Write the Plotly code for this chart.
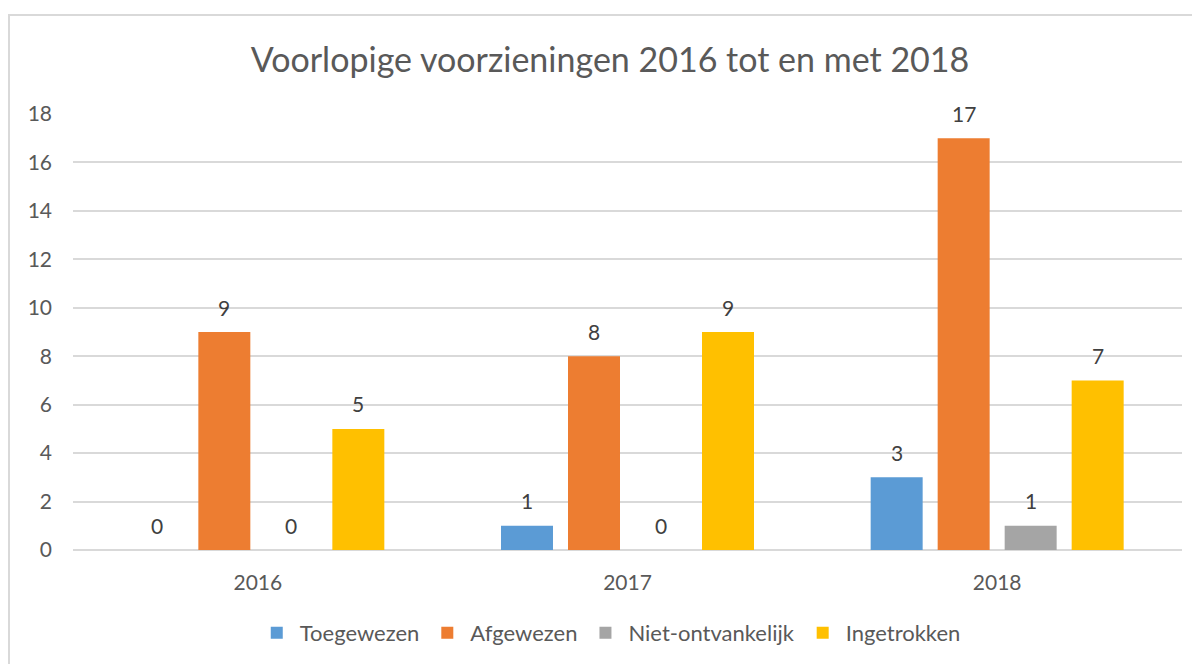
import plotly.graph_objects as go

years = ['2016', '2017', '2018']
series_names = ['Toegewezen', 'Afgewezen', 'Niet-ontvankelijk', 'Ingetrokken']
toegewezen = [0, 1, 3]
afgewezen = [9, 8, 17]
niet_ontvankelijk = [0, 0, 1]
ingetrokken = [5, 9, 7]
y_ticks = [0, 2, 4, 6, 8, 10, 12, 14, 16, 18]

colors = ['#5B9BD5', '#ED7D31', '#A5A5A5', '#FFC000']
series_values = [toegewezen, afgewezen, niet_ontvankelijk, ingetrokken]

# page body adds an 8px offset, so the layout is shifted up/left by that much
W, H = 1200, 664
margin = dict(l=65, r=26, t=106, b=122)
bargap = 0.275
plot_w = W - margin['l'] - margin['r']
plot_h = H - margin['t'] - margin['b']
slot_px = plot_w / len(years) * (1 - bargap) / len(series_names)

fig = go.Figure()
annotations = []
for i, (name, vals, col) in enumerate(zip(series_names, series_values, colors)):
    fig.add_trace(go.Bar(x=years, y=vals, name=name, marker_color=col,
                         marker_line_width=0))
    shift = (i - (len(series_names) - 1) / 2) * slot_px
    # category axis: use the category index, '2016' would be read as an index
    for j, v in enumerate(vals):
        annotations.append(dict(x=j, y=v, text=str(v), showarrow=False,
                                xshift=shift, yshift=25, yanchor='middle',
                                font=dict(family='Lato', size=21, color='#404040')))

fig.update_layout(
    width=W, height=H,
    margin=margin,
    paper_bgcolor='white', plot_bgcolor='white',
    barmode='group', bargap=bargap, bargroupgap=0.224,
    font=dict(family='Lato', size=21, color='#595959'),
    title=dict(text='Voorlopige voorzieningen 2016 tot en met 2018',
               x=602 / W, xanchor='center',
               y=1 - 52 / H, yanchor='middle',
               font=dict(family='Lato', size=34, color='#595959')),
    xaxis=dict(type='category', categoryorder='array', categoryarray=years,
               range=[-0.5, len(years) - 0.5],
               showgrid=False, showline=False, zeroline=False,
               ticks='', ticklabelstandoff=18,
               tickfont=dict(size=21, color='#595959')),
    yaxis=dict(range=[0, 18], tickvals=y_ticks, showgrid=True,
               gridcolor='#D9D9D9', gridwidth=1.5, zeroline=True,
               zerolinecolor='#D9D9D9', zerolinewidth=1.5, showline=False,
               ticks='', ticklabelstandoff=20,
               tickfont=dict(size=21, color='#595959')),
    legend=dict(orientation='h', x=0.484, xanchor='center', y=-83 / plot_h,
                yanchor='middle', font=dict(size=22, color='#595959'),
                itemwidth=36, traceorder='normal'),
    annotations=annotations,
    shapes=[dict(type='rect', xref='paper', yref='paper',
                 x0=-64 / plot_w, x1=1 + 40 / plot_w,
                 y0=-130 / plot_h, y1=535 / plot_h,
                 line=dict(color='#D9D9D9', width=2), fillcolor='rgba(0,0,0,0)',
                 layer='below')],
)

fig.write_html('out.html')
